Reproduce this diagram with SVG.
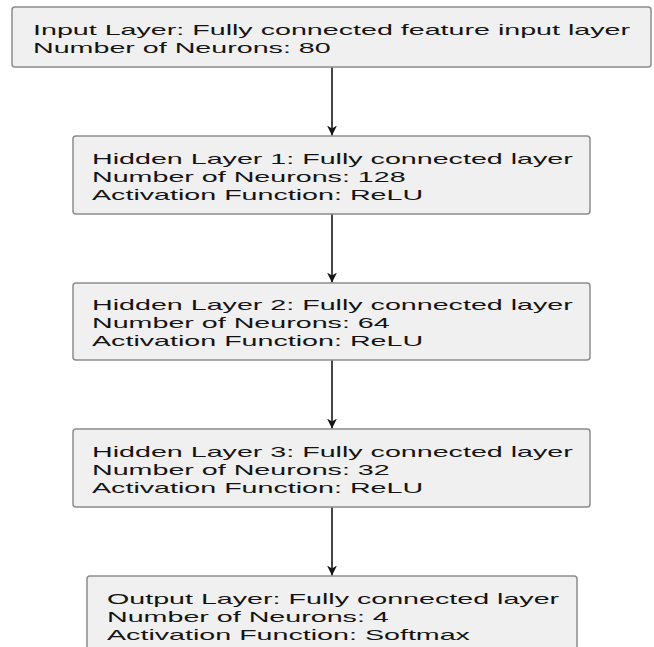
<svg xmlns="http://www.w3.org/2000/svg" width="654" height="647" viewBox="0 0 654 647">
<style>
.box{fill:#f0f0f0;stroke:#8c8c8c;stroke-width:1.5}
.t{font-family:"Liberation Sans",Arial,sans-serif;font-size:15px;fill:#141414}
.c{stroke:#262626;stroke-width:1.7;fill:none}
</style>
<defs>
<marker id="ah" markerWidth="12" markerHeight="10" refX="10" refY="5" orient="auto" markerUnits="userSpaceOnUse">
<path d="M0,0 L10,5 L0,10 L3,5 Z" fill="#141414"/>
</marker>
</defs>
<rect width="654" height="647" fill="#ffffff"/>
<g id="connectors">
<line class="c" x1="332" y1="67" x2="332" y2="135.5" marker-end="url(#ah)"/>
<line class="c" x1="332" y1="214" x2="332" y2="282.5" marker-end="url(#ah)"/>
<line class="c" x1="332" y1="360" x2="332" y2="428.5" marker-end="url(#ah)"/>
<line class="c" x1="332" y1="507" x2="332" y2="575.5" marker-end="url(#ah)"/>
</g>
<g id="input">
<rect class="box" x="12" y="7" width="639" height="60" rx="3"/>
<g class="t" transform="translate(33 0) scale(1.91 1)">
<text x="0" y="35">Input Layer: Fully connected feature input layer</text>
<text x="0" y="53">Number of Neurons: 80</text>
</g>
</g>
<g id="hidden1">
<rect class="box" x="73" y="136" width="517" height="78" rx="3"/>
<g class="t" transform="translate(92 0) scale(1.91 1)">
<text x="0" y="164">Hidden Layer 1: Fully connected layer</text>
<text x="0" y="182">Number of Neurons: 128</text>
<text x="0" y="200">Activation Function: ReLU</text>
</g>
</g>
<g id="hidden2">
<rect class="box" x="73" y="283" width="517" height="77" rx="3"/>
<g class="t" transform="translate(92 0) scale(1.91 1)">
<text x="0" y="310">Hidden Layer 2: Fully connected layer</text>
<text x="0" y="328">Number of Neurons: 64</text>
<text x="0" y="346">Activation Function: ReLU</text>
</g>
</g>
<g id="hidden3">
<rect class="box" x="73" y="429" width="517" height="78" rx="3"/>
<g class="t" transform="translate(92 0) scale(1.91 1)">
<text x="0" y="457">Hidden Layer 3: Fully connected layer</text>
<text x="0" y="475">Number of Neurons: 32</text>
<text x="0" y="493">Activation Function: ReLU</text>
</g>
</g>
<g id="output">
<rect class="box" x="87" y="576" width="490" height="90" rx="3"/>
<g class="t" transform="translate(107 0) scale(1.91 1)">
<text x="0" y="604">Output Layer: Fully connected layer</text>
<text x="0" y="622">Number of Neurons: 4</text>
<text x="0" y="640">Activation Function: Softmax</text>
</g>
</g>
</svg>
